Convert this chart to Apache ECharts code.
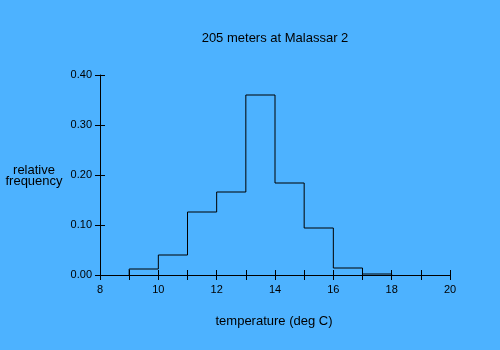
<!DOCTYPE html>
<html>
<head>
<meta charset="utf-8">
<script src="https://cdn.jsdelivr.net/npm/echarts@6/dist/echarts.min.js"></script>
<style>
html,body{margin:0;padding:0;background:#4db2ff;}
#chart{width:500px;height:350px;}
</style>
</head>
<body>
<div id="chart"></div>
<script>
// Data
var titleText = "205 meters at Malassar 2";
var xAxisTitle = "temperature (deg C)";
var yAxisTitleLines = ["relative", "frequency"];
var binStarts = [9, 10, 11, 12, 13, 14, 15, 16, 17];
var binWidth = 1;
var frequencies = [0.012, 0.040, 0.126, 0.166, 0.360, 0.184, 0.094, 0.014, 0.002];
var xTicks = { min: 8, max: 20, step: 1, labelEvery: 2 };
var yTicks = { min: 0, max: 0.4, step: 0.1, decimals: 2 };

// Build step outline of histogram
var outline = [[binStarts[0], 0]];
for (var i = 0; i < binStarts.length; i++) {
  outline.push([binStarts[i], frequencies[i]]);
}
var lastEnd = binStarts[binStarts.length - 1] + binWidth;
outline.push([lastEnd, frequencies[frequencies.length - 1]]);
outline.push([lastEnd, 0]);

var font = "Liberation Sans, Arial, sans-serif";
var black = "#000000";

function xAxisDef(inside, showAll) {
  return {
    type: "value", position: "bottom", min: xTicks.min, max: xTicks.max, interval: xTicks.step,
    axisLine: { show: showAll, onZero: false, lineStyle: { color: black, width: 1 } },
    axisTick: { show: true, inside: inside, length: 5, lineStyle: { color: black, width: 1 } },
    axisLabel: {
      show: showAll, margin: 9, color: black, fontSize: 11, fontFamily: font,
      formatter: function (v) { return (Math.round(v) % xTicks.labelEvery === 0) ? String(Math.round(v)) : ""; }
    },
    splitLine: { show: false }
  };
}
function yAxisDef(inside, showAll) {
  return {
    type: "value", position: "left", min: yTicks.min, max: yTicks.max, interval: yTicks.step,
    axisLine: { show: showAll, onZero: false, lineStyle: { color: black, width: 1 } },
    axisTick: { show: true, inside: inside, length: 5, lineStyle: { color: black, width: 1 } },
    axisLabel: {
      show: showAll, margin: 8, color: black, fontSize: 11, fontFamily: font,
      formatter: function (v) { return v.toFixed(yTicks.decimals); }
    },
    splitLine: { show: false }
  };
}

var chart = echarts.init(document.getElementById("chart"), null, { renderer: "canvas" });
chart.setOption({
  animation: false,
  backgroundColor: "#4db2ff",
  grid: { left: 100, right: 50, top: 75, bottom: 75, containLabel: false },
  xAxis: [xAxisDef(false, true), xAxisDef(true, false)],
  yAxis: [yAxisDef(false, true), yAxisDef(true, false)],
  series: [{
    type: "line", xAxisIndex: 0, yAxisIndex: 0, data: outline, step: "end",
    symbol: "none", clip: false,
    lineStyle: { color: black, width: 1 }
  }],
  graphic: [
    { type: "text", left: null, x: 275, y: 38, style: { text: titleText, fill: black, font: "13px " + font, align: "center", verticalAlign: "middle" } },
    { type: "text", x: 274, y: 321, style: { text: xAxisTitle, fill: black, font: "13px " + font, align: "center", verticalAlign: "middle" } },
    { type: "text", x: 34, y: 170, style: { text: yAxisTitleLines[0], fill: black, font: "13px " + font, align: "center", verticalAlign: "middle" } },
    { type: "text", x: 34, y: 181.5, style: { text: yAxisTitleLines[1], fill: black, font: "13px " + font, align: "center", verticalAlign: "middle" } }
  ]
});
</script>
</body>
</html>
